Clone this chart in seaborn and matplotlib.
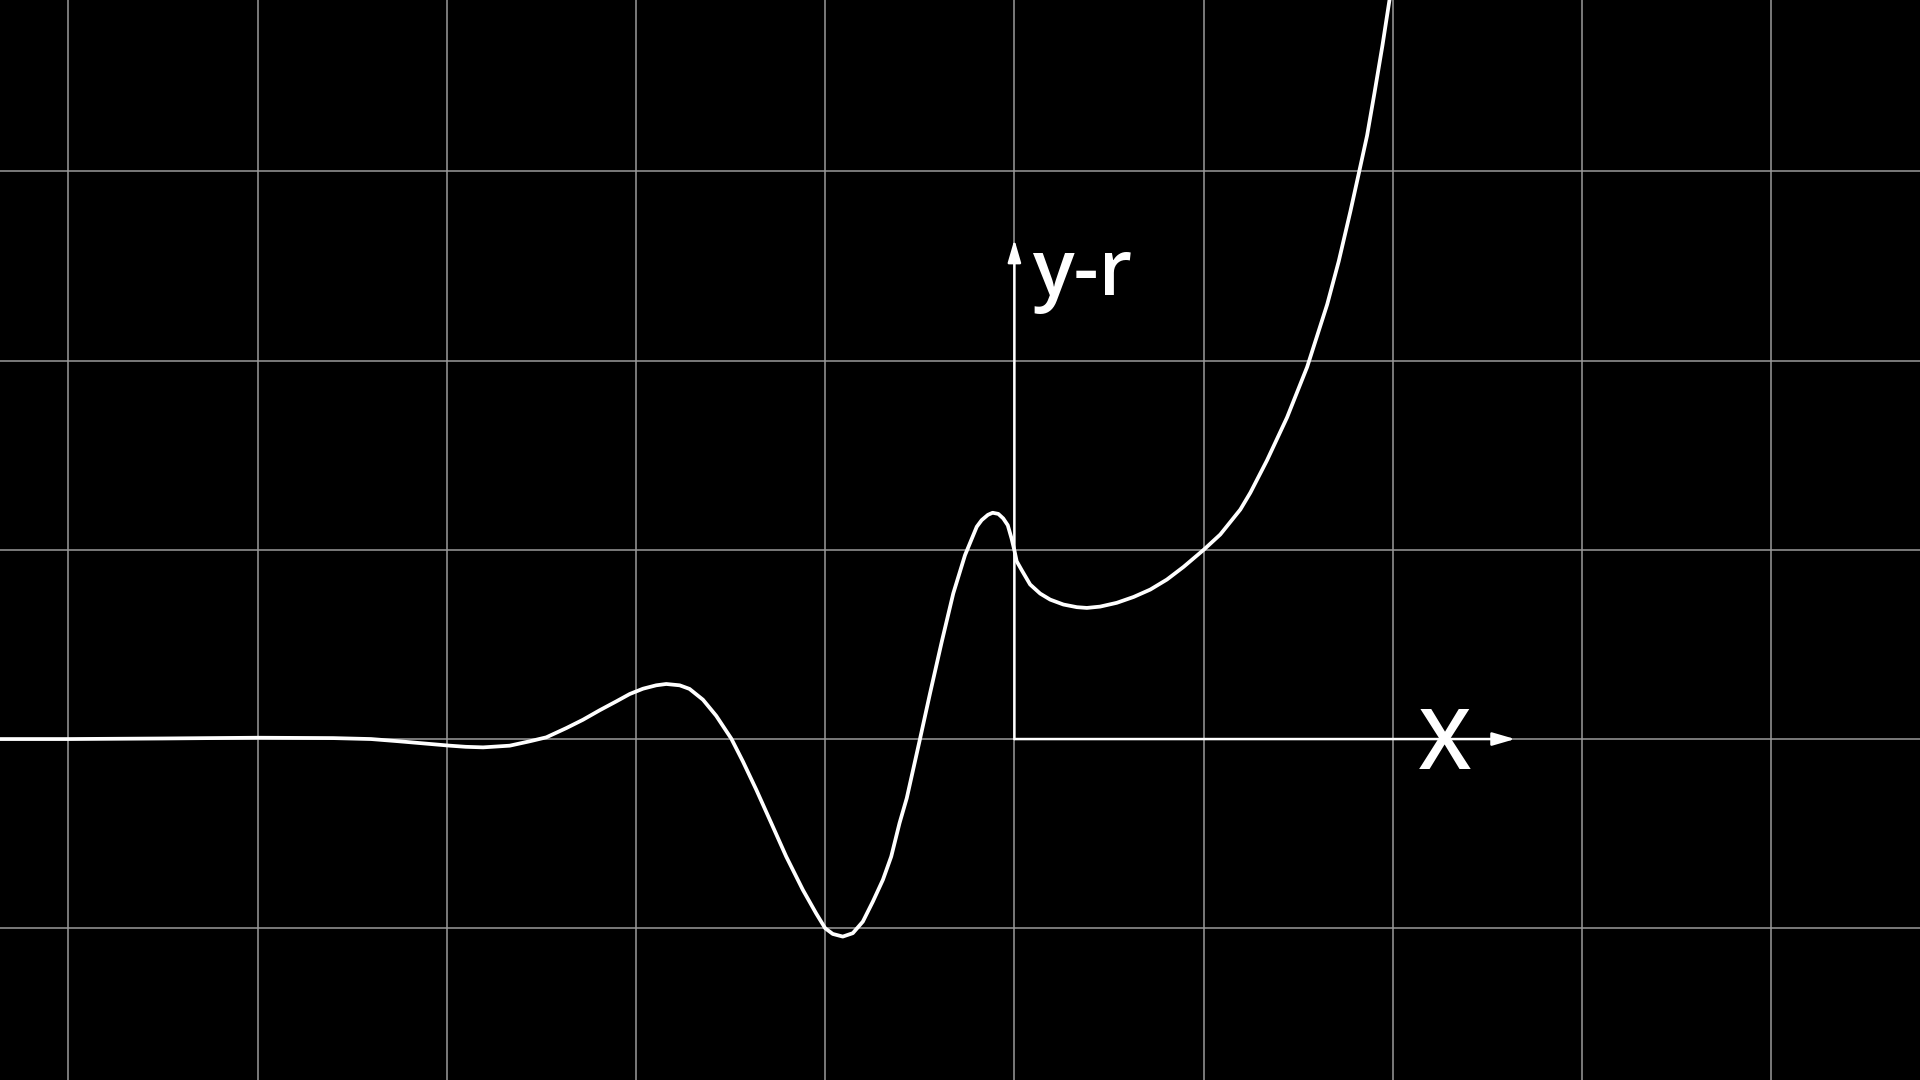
import matplotlib
matplotlib.use("Agg")
import matplotlib.pyplot as plt
import seaborn as sns
import pandas as pd

# points (unités de la grille)
x_vals = [-5.36, -5.0, -4.5, -4.0, -3.6, -3.4, -3.25, -3.1, -2.984, -2.9,
          -2.808, -2.667, -2.562, -2.474, -2.368, -2.28, -2.192, -2.104, -2.033, -1.963,
          -1.893, -1.84, -1.769, -1.717, -1.646, -1.576, -1.496, -1.435, -1.364, -1.285,
          -1.206, -1.118, -1.048, -1.0, -0.96, -0.907, -0.854, -0.801, -0.748, -0.695,
          -0.651, -0.607, -0.569, -0.499, -0.446, -0.384, -0.323, -0.261, -0.199, -0.173,
          -0.14, -0.115, -0.085, -0.059, -0.035, -0.015, 0.0, 0.012, 0.039, 0.083,
          0.136, 0.189, 0.259, 0.33, 0.383, 0.453, 0.541, 0.63, 0.718, 0.806,
          0.894, 1.0, 1.088, 1.194, 1.247, 1.335, 1.441, 1.547, 1.653, 1.714,
          1.776, 1.82, 1.864, 1.903, 1.945, 1.984, 2.0]
y_vals = [0.0, 0.0, 0.003, 0.007, 0.005, 0.0, -0.012, -0.025, -0.035, -0.041,
          -0.044, -0.035, -0.012, 0.009, 0.058, 0.102, 0.152, 0.199, 0.238, 0.266,
          0.284, 0.291, 0.284, 0.265, 0.208, 0.123, 0.002, -0.118, -0.268, -0.444,
          -0.621, -0.797, -0.921, -1.0, -1.03, -1.044, -1.026, -0.965, -0.859, -0.744,
          -0.621, -0.444, -0.313, 0.0, 0.241, 0.514, 0.77, 0.972, 1.122, 1.157,
          1.185, 1.196, 1.19, 1.166, 1.13, 1.06, 0.997, 0.94, 0.892, 0.817,
          0.769, 0.737, 0.711, 0.697, 0.693, 0.70, 0.72, 0.751, 0.79, 0.843,
          0.91, 1.0, 1.081, 1.213, 1.302, 1.473, 1.70, 1.966, 2.297, 2.525,
          2.79, 2.989, 3.19, 3.415, 3.665, 3.917, 4.02]

x_ticks = [-5, -4, -3, -2, -1, 0, 1, 2, 3, 4]
y_ticks = [-1, 0, 1, 2, 3]

x_label = "X"
y_label = "y-r"

data = pd.DataFrame({"x": x_vals, "y": y_vals})

sns.set_theme(style="dark", rc={"axes.facecolor": "black", "figure.facecolor": "black"})
plt.rcParams["font.family"] = ["Open Sans", "DejaVu Sans"]

fig = plt.figure(figsize=(19.2, 10.8), dpi=100)
ax = fig.add_axes([0, 0, 1, 1])
ax.set_facecolor("black")

ax.set_xlim(-5.361, 4.786)
ax.set_ylim(-1.802, 3.906)
ax.set_xticks(x_ticks)
ax.set_yticks(y_ticks)
ax.set_xticklabels([])
ax.set_yticklabels([])
ax.tick_params(length=0)
ax.grid(True, color="#9a9a9a", linewidth=1.1)
for s in ax.spines.values():
    s.set_visible(False)

# axes positifs avec flèches
arrow = "-|>,head_length=0.55,head_width=0.16"
ax.annotate("", xy=(0, 2.64), xytext=(0, 0),
            arrowprops=dict(arrowstyle=arrow, color="white", lw=1.8,
                            mutation_scale=25, shrinkA=0, shrinkB=0))
ax.annotate("", xy=(2.646, 0), xytext=(0, 0),
            arrowprops=dict(arrowstyle=arrow, color="white", lw=1.8,
                            mutation_scale=25, shrinkA=0, shrinkB=0))

# courbe
sns.lineplot(data=data, x="x", y="y", sort=False, color="white",
             linewidth=2.7, ax=ax, legend=False)

ax.text(0.095, 2.347, y_label, color="white", fontsize=56, fontweight="semibold",
        ha="left", va="baseline")
ax.text(2.273, -0.159, x_label, color="white", fontsize=60, fontweight="semibold",
        ha="center", va="baseline")

ax.set_xlabel("")
ax.set_ylabel("")

fig.savefig("out.png", dpi=100, facecolor="black")
